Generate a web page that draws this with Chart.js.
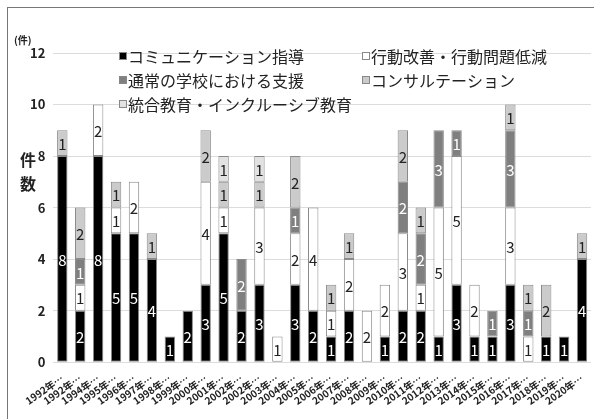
<!DOCTYPE html>
<html lang="ja">
<head>
  <meta charset="UTF-8">
  <title>件数の推移</title>
  <script src="https://cdn.jsdelivr.net/npm/chart.js"></script>
  <style>
    * { box-sizing: border-box; margin: 0; padding: 0; }
    body { width: 594px; height: 419px; background: #fff; overflow: hidden; position: relative; }
    .frame {
      position: absolute; left: 7px; top: 7px; width: 600px; height: 430px;
      border: 1.5px solid #777;
    }
    .wrap { position: absolute; left: 0; top: 0; width: 594px; height: 419px; }
  </style>
</head>
<body>
<div class="frame"></div>
<div class="wrap"><canvas id="chart" width="594" height="419"></canvas></div>

<script>
  const years = ['1992年…','1992年…','1994年…','1995年…','1996年…','1997年…','1998年…','1999年…',
    '2000年…','2001年…','2002年…','2002年…','2003年…','2004年…','2005年…','2006年…','2007年…',
    '2008年…','2009年…','2010年…','2011年…','2012年…','2013年…','2014年…','2015年…','2016年…',
    '2017年…','2018年…','2019年…','2020年…'];

  const communication = [8,2,8,5,5,4,1,2,3,5,2,3,0,3,2,1,2,0,1,2,2,1,3,1,1,3,0,1,1,4];
  const behavior      = [0,1,2,1,2,0,0,0,4,1,0,3,1,2,4,1,2,2,2,3,1,5,5,2,0,3,1,0,0,0];
  const regularSchool = [0,1,0,0,0,0,0,0,0,0,2,0,0,1,0,0,0,0,0,2,2,3,1,0,1,3,1,0,0,0];
  const consultation  = [1,2,0,1,0,1,0,0,2,1,0,1,0,2,0,1,1,0,0,2,1,0,0,0,0,1,1,2,0,1];
  const inclusive     = [0,0,0,0,0,0,0,0,0,1,0,1,0,0,0,0,0,0,0,0,0,0,0,0,0,0,0,0,0,0];

  const yTicks = [0,2,4,6,8,10,12];

  const series = [
    { label: 'コミュニケーション指導', data: communication, color: '#000000', text: '#ffffff' },
    { label: '行動改善・行動問題低減', data: behavior, color: '#ffffff', text: '#222222' },
    { label: '通常の学校における支援', data: regularSchool, color: '#7f7f7f', text: '#ffffff' },
    { label: 'コンサルテーション', data: consultation, color: '#cbcbcb', text: '#222222' },
    { label: '統合教育・インクルーシブ教育', data: inclusive, color: '#e2e2e2', text: '#222222' }
  ];

  const FONT = '"Noto Sans CJK JP", "Noto Sans", sans-serif';

  // numbers inside each segment
  const segLabels = {
    id: 'segLabels',
    afterDatasetsDraw(chart) {
      const ctx = chart.ctx;
      ctx.save();
      ctx.font = '15px ' + FONT;
      ctx.textAlign = 'center';
      ctx.textBaseline = 'middle';
      chart.data.datasets.forEach((ds, i) => {
        chart.getDatasetMeta(i).data.forEach((bar, j) => {
          const v = ds.data[j];
          if (!v) return;
          ctx.fillStyle = series[i].text;
          ctx.fillText(String(v), bar.x, (bar.y + bar.base) / 2 + 1);
        });
      });
      ctx.restore();
    }
  };

  // legend inside the plot + axis captions
  const extras = {
    id: 'extras',
    afterDatasetsDraw(chart) {
      const ctx = chart.ctx;
      ctx.save();
      const pos = [[123, 56], [366, 56], [123, 80], [366, 80], [123, 104]];
      ctx.font = '16px ' + FONT;
      ctx.textBaseline = 'middle';
      series.forEach((s, k) => {
        const [x, y] = pos[k];
        ctx.fillStyle = s.color;
        ctx.fillRect(x - 4, y - 4, 8, 8);
        ctx.strokeStyle = '#888';
        ctx.lineWidth = 1;
        ctx.strokeRect(x - 3.5, y - 3.5, 7, 7);
        ctx.fillStyle = '#222';
        ctx.textAlign = 'left';
        ctx.fillText(s.label, x + 5, y + 1);
      });
      ctx.fillStyle = '#222';
      ctx.textAlign = 'left';
      ctx.font = 'bold 10px ' + FONT;
      ctx.fillText('(件)', 14, 40);
      ctx.font = 'bold 16px ' + FONT;
      ctx.textAlign = 'center';
      ctx.fillText('件', 28, 160);
      ctx.fillText('数', 28, 184);
      ctx.restore();
    }
  };

  new Chart(document.getElementById('chart'), {
    type: 'bar',
    data: {
      labels: years,
      datasets: series.map(s => ({
        label: s.label,
        data: s.data,
        backgroundColor: s.color,
        borderColor: '#8a8a8a',
        borderWidth: 1,
        borderSkipped: false,
        categoryPercentage: 1,
        barPercentage: 0.58
      }))
    },
    options: {
      responsive: false,
      animation: false,
      layout: { padding: { top: 53, left: 22, right: 3, bottom: 10 } },
      plugins: { legend: { display: false }, tooltip: { enabled: false } },
      scales: {
        x: {
          stacked: true,
          grid: { display: false },
          border: { display: false },
          ticks: {
            autoSkip: false, maxRotation: 35, minRotation: 35,
            font: { family: FONT, size: 10, weight: 'bold' }, color: '#222', padding: 2
          }
        },
        y: {
          stacked: true,
          min: 0, max: 12,
          afterBuildTicks: axis => { axis.ticks = yTicks.map(v => ({ value: v })); },
          grid: { color: '#dcdcdc', drawTicks: false },
          border: { display: false },
          ticks: { font: { family: FONT, size: 13, weight: 'bold' }, color: '#222', padding: 8 }
        }
      }
    },
    plugins: [segLabels, extras]
  });
</script>
</body>
</html>
